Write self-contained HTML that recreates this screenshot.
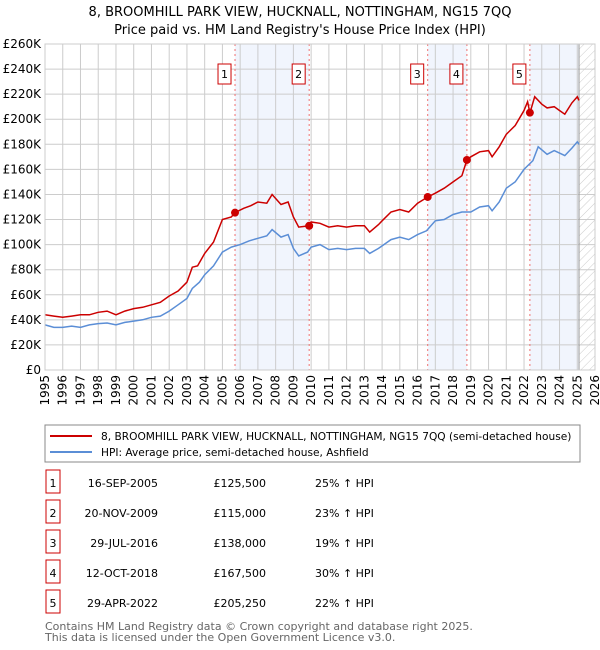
<!DOCTYPE html>
<html><head><meta charset="utf-8"><style>
body{margin:0;background:#fff;font-family:"DejaVu Sans","Liberation Sans",sans-serif;}
svg{display:block}
</style></head><body>
<svg id="c" width="600" height="650" xmlns="http://www.w3.org/2000/svg" font-family="DejaVu Sans, Liberation Sans, sans-serif">
<defs><pattern id="hatch" width="6" height="6" patternUnits="userSpaceOnUse" patternTransform="rotate(45)"><line x1="0" y1="0" x2="0" y2="6" stroke="#ccc" stroke-width="1"/></pattern></defs>
<text x="300" y="16" text-anchor="middle" font-size="13">8, BROOMHILL PARK VIEW, HUCKNALL, NOTTINGHAM, NG15 7QQ</text>
<text x="300" y="34" text-anchor="middle" font-size="13">Price paid vs. HM Land Registry's House Price Index (HPI)</text>
<g id="plot"></g>
<rect x="45" y="425" width="535" height="37" fill="#fff" stroke="#888"/>
<line x1="50" y1="436" x2="92" y2="436" stroke="#cc0000" stroke-width="2"/>
<text x="101" y="440" font-size="10.6">8, BROOMHILL PARK VIEW, HUCKNALL, NOTTINGHAM, NG15 7QQ (semi-detached house)</text>
<line x1="50" y1="452" x2="92" y2="452" stroke="#5b8ed6" stroke-width="2"/>
<text x="101" y="456" font-size="10.6">HPI: Average price, semi-detached house, Ashfield</text>
<g id="table"></g>
<text x="45" y="630" font-size="11" fill="#666">Contains HM Land Registry data © Crown copyright and database right 2025.</text>
<text x="45" y="641" font-size="11" fill="#666">This data is licensed under the Open Government Licence v3.0.</text>
</svg>
<script>
const hpiYears=[1995,1995.5,1996,1996.5,1997,1997.5,1998,1998.5,1999,1999.5,2000,2000.5,2001,2001.5,2002,2002.5,2003,2003.3,2003.7,2004,2004.5,2005,2005.5,2006,2006.5,2007,2007.5,2007.8,2008.3,2008.7,2009,2009.3,2009.8,2010,2010.5,2011,2011.5,2012,2012.5,2013,2013.3,2013.8,2014,2014.5,2015,2015.5,2016,2016.5,2017,2017.5,2018,2018.5,2019,2019.5,2020,2020.2,2020.6,2021,2021.5,2022,2022.5,2022.8,2023.3,2023.7,2024,2024.3,2024.7,2025,2025.1];
const hpiValues=[36,34,34,35,34,36,37,37.5,36,38,39,40,42,43,47,52,57,65,70,76,83,94,98,100,103,105,107,112,106,108,97,91,94,98,100,96,97,96,97,97,93,97,99,104,106,104,108,111,119,120,124,126,126,130,131,127,134,145,150,160,167,178,172,175,173,171,177,182,180];
const propYears=[1995,1995.5,1996,1996.5,1997,1997.5,1998,1998.5,1999,1999.5,2000,2000.5,2001,2001.5,2002,2002.5,2003,2003.3,2003.6,2004,2004.5,2005,2005.5,2005.71,2006.2,2006.6,2007,2007.5,2007.8,2008.3,2008.7,2009,2009.3,2009.89,2010,2010.5,2011,2011.5,2012,2012.5,2013,2013.3,2013.8,2014,2014.5,2015,2015.5,2016,2016.57,2017,2017.5,2018,2018.5,2018.78,2019,2019.5,2020,2020.2,2020.6,2021,2021.5,2022,2022.2,2022.33,2022.6,2023,2023.3,2023.7,2024,2024.3,2024.7,2025,2025.1];
const propValues=[44,43,42,43,44,44,46,47,44,47,49,50,52,54,59,63,70,82,83,93,102,120,122,125.5,129,131,134,133,140,132,134,122,114,115,118,117,114,115,114,115,115,110,116,119,126,128,126,133,138,141,145,150,155,167.5,170,174,175,170,178,188,195,207,214,205,218,212,209,210,207,204,213,218,215];
const saleDates=[2005.71,2009.89,2016.57,2018.78,2022.33];
const saleValues=[125.5,115,138,167.5,205.25];
const saleLabels=["1","2","3","4","5"];
const saleDateText=["16-SEP-2005","20-NOV-2009","29-JUL-2016","12-OCT-2018","29-APR-2022"];
const salePriceText=["£125,500","£115,000","£138,000","£167,500","£205,250"];
const saleHpiText=["25% ↑ HPI","23% ↑ HPI","19% ↑ HPI","30% ↑ HPI","22% ↑ HPI"];
const yTicks=[0,20,40,60,80,100,120,140,160,180,200,220,240,260];
const xTicks=[1995,1996,1997,1998,1999,2000,2001,2002,2003,2004,2005,2006,2007,2008,2009,2010,2011,2012,2013,2014,2015,2016,2017,2018,2019,2020,2021,2022,2023,2024,2025,2026];
const dataEnd=2025.1;
const L=45,R=595,T=44,B=370;
const x=v=>L+(v-1995)/(2026-1995)*(R-L);
const y=v=>B-v/260*(B-T);
const NS="http://www.w3.org/2000/svg";
const plot=document.getElementById('plot');
function mk(tag,attrs,parent){const e=document.createElementNS(NS,tag);for(const k in attrs)e.setAttribute(k,attrs[k]);(parent||plot).appendChild(e);return e;}
let e;
[[0,1],[2,3]].forEach(p=>{e=mk('rect',{x:x(saleDates[p[0]]),y:T,width:x(saleDates[p[1]])-x(saleDates[p[0]]),height:B-T,fill:'#eef3fc',opacity:0.8});

});
e=mk('rect',{x:x(saleDates[4]),y:T,width:x(dataEnd)-x(saleDates[4]),height:B-T,fill:'#eef3fc',opacity:0.8});


e=mk('rect',{x:x(dataEnd),y:T,width:R-x(dataEnd),height:B-T,fill:'url(#hatch)'});


yTicks.forEach(t=>{e=mk('line',{x1:L,x2:R,y1:y(t),y2:y(t),stroke:'#ccc'});


e=mk('text',{x:L-4,y:y(t)+4,'text-anchor':'end','font-size':12});e.textContent=t===0?'£0':'£'+t+'K';

});
xTicks.forEach(t=>{e=mk('line',{x1:x(t),x2:x(t),y1:T,y2:B,stroke:'#ccc'});


e=mk('text',{x:x(t)+4,y:B+5,'text-anchor':'end','font-size':12,transform:`rotate(-90 ${x(t)+4} ${B+5})`});e.textContent=t;

});
e=mk('line',{x1:x(dataEnd),x2:x(dataEnd),y1:T,y2:B,stroke:'#999'});


saleDates.forEach((d,i)=>{e=mk('line',{x1:x(d),x2:x(d),y1:T,y2:B,stroke:'#f07070','stroke-dasharray':'2,3'});


e=mk('rect',{x:x(d)-17,y:64,width:13,height:20,fill:'#fff',stroke:'#cc0000'});


e=mk('text',{x:x(d)-10.5,y:78,'text-anchor':'middle','font-size':11});e.textContent=saleLabels[i];

});
function path(xs,vs){return xs.map((v,i)=>(i?'L':'M')+x(v).toFixed(1)+','+y(vs[i]).toFixed(1)).join('');}
e=mk('path',{d:path(hpiYears,hpiValues),fill:'none',stroke:'#5b8ed6','stroke-width':1.5});


e=mk('path',{d:path(propYears,propValues),fill:'none',stroke:'#cc0000','stroke-width':1.5});


saleDates.forEach((d,i)=>{e=mk('circle',{cx:x(d),cy:y(saleValues[i]),r:4,fill:'#cc0000'});

});
e=mk('rect',{x:L,y:T,width:R-L,height:B-T,fill:'none',stroke:'#ccc'});


const tb=document.getElementById('table');
saleLabels.forEach((s,i)=>{const cy=483+i*30;
e=mk('rect',{x:46,y:cy-13,width:14,height:23,fill:'#fff',stroke:'#cc0000'},tb);


e=mk('text',{x:53,y:cy+4,'text-anchor':'middle','font-size':11},tb);e.textContent=s;


e=mk('text',{x:158,y:cy+4,'text-anchor':'end','font-size':11},tb);e.textContent=saleDateText[i];


e=mk('text',{x:266,y:cy+4,'text-anchor':'end','font-size':11},tb);e.textContent=salePriceText[i];


e=mk('text',{x:315,y:cy+4,'font-size':11},tb);e.textContent=saleHpiText[i];

});
</script>
</body></html>
